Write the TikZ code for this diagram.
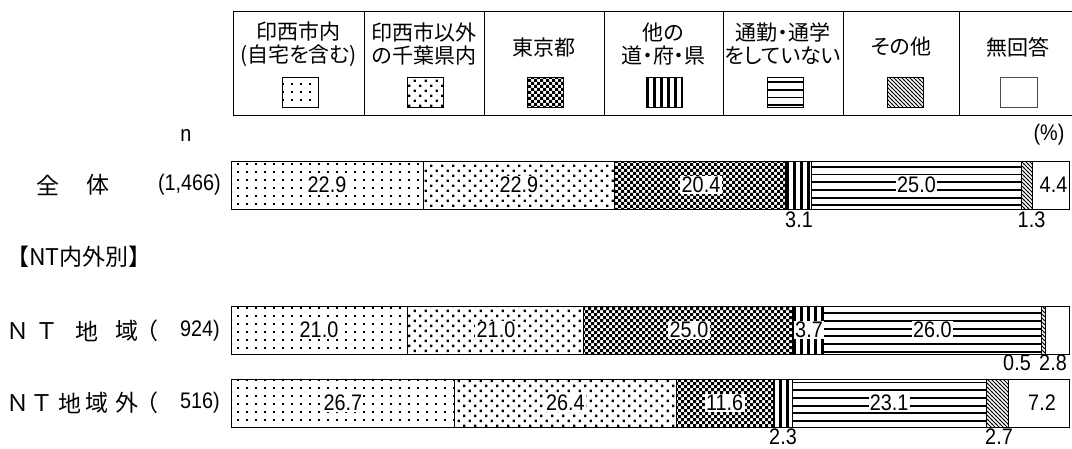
\documentclass[tikz,border=0pt]{standalone}
\usepackage{fontspec}
\setmainfont{Liberation Sans}
\newfontfamily\jp{Noto Sans CJK JP}
\newfontfamily\jpp[RawFeature=+palt]{Noto Sans CJK JP}
\newfontfamily\numf[FakeStretch=0.88]{Liberation Sans}
\usetikzlibrary{patterns}

\pgfdeclarepatternformonly{pdotsA}{\pgfqpoint{-1pt}{-1pt}}{\pgfqpoint{10pt}{9pt}}{\pgfqpoint{9pt}{8pt}}{%
  \pgfpathrectangle{\pgfqpoint{3pt}{3pt}}{\pgfqpoint{1.7pt}{1.7pt}}\pgfusepath{fill}}
\pgfdeclarepatternformonly{pdotsB}{\pgfqpoint{-1pt}{-1pt}}{\pgfqpoint{12pt}{11pt}}{\pgfqpoint{11pt}{10pt}}{%
  \pgfpathrectangle{\pgfqpoint{1pt}{1pt}}{\pgfqpoint{2.4pt}{2.4pt}}%
  \pgfpathrectangle{\pgfqpoint{6.5pt}{6pt}}{\pgfqpoint{2.4pt}{2.4pt}}\pgfusepath{fill}}
\pgfdeclarepatternformonly{pcheck}{\pgfqpoint{-1pt}{-1pt}}{\pgfqpoint{7pt}{7pt}}{\pgfqpoint{6pt}{6pt}}{%
  \pgfpathrectangle{\pgfqpoint{0pt}{0pt}}{\pgfqpoint{3pt}{3pt}}%
  \pgfpathrectangle{\pgfqpoint{3pt}{3pt}}{\pgfqpoint{3pt}{3pt}}\pgfusepath{fill}}
\pgfdeclarepatternformonly{pvert}{\pgfqpoint{-1pt}{-1pt}}{\pgfqpoint{8pt}{8pt}}{\pgfqpoint{7pt}{7pt}}{%
  \pgfpathrectangle{\pgfqpoint{2pt}{-1pt}}{\pgfqpoint{2.5pt}{10pt}}\pgfusepath{fill}}
\pgfdeclarepatternformonly{phoriz}{\pgfqpoint{-1pt}{-1pt}}{\pgfqpoint{8pt}{8.7pt}}{\pgfqpoint{7pt}{7.7pt}}{%
  \pgfpathrectangle{\pgfqpoint{-1pt}{3pt}}{\pgfqpoint{10pt}{1.9pt}}\pgfusepath{fill}}
\pgfdeclarepatternformonly{pdiag}{\pgfqpoint{-1pt}{-1pt}}{\pgfqpoint{5pt}{5pt}}{\pgfqpoint{4pt}{4pt}}{%
  \pgfsetlinewidth{0.9pt}\pgfpathmoveto{\pgfqpoint{-0.5pt}{4.5pt}}\pgfpathlineto{\pgfqpoint{4.5pt}{-0.5pt}}\pgfusepath{stroke}}

\begin{document}
\begin{tikzpicture}[x=1pt,y=-1pt,
  seg/.style={draw=black,line width=0.8pt},
  lg/.style={draw=black,line width=0.9pt},
  sw/.style={draw=black,line width=0.8pt},
  legtxt/.style={font=\jpp\fontsize{21}{23}\selectfont,align=center,inner sep=0pt},
  val/.style={font=\numf\fontsize{22.5}{22.5}\selectfont,fill=white,inner sep=1.4pt},
  num/.style={font=\numf\fontsize{22.5}{22.5}\selectfont,inner sep=0.6pt},
  jl/.style={font=\jp\fontsize{23}{23}\selectfont,inner sep=0pt},
  nl/.style={font=\numf\fontsize{22.5}{22.5}\selectfont,inner sep=0pt}]
\useasboundingbox (0,0) rectangle (1072,448);

% legend frame
\draw[lg] (233,11) -- (1072,11);
\draw[lg] (233,115) -- (1072,115);
\foreach \xx in {233,364,484,604,723,843,959} \draw[lg] (\xx,11) -- (\xx,115);

% legend texts
\node[legtxt] (l1) at (298.5,44) {印西市内\\(自宅を含む)};
\node[legtxt] (l2) at (424,44) {印西市以外\\の千葉県内};
\node[legtxt] (l3) at (544,48) {東京都};
\node[legtxt] (l4) at (663.5,44) {他の\\道・府・県};
\node[legtxt] (l5) at (783,44) {通勤・通学\\をしていない};
\node[legtxt] (l6) at (901,47) {その他};
\node[legtxt] (l7) at (1018,47) {無回答};

% legend swatches
\path[sw,pattern=pdotsA] (282,77) rectangle (318,107);
\path[sw,pattern=pdotsB] (407,77) rectangle (443,107);
\path[sw,pattern=pcheck] (527,77) rectangle (563,107);
\path[sw,pattern=pvert] (646,77) rectangle (682,107);
\path[sw,pattern=phoriz] (767,77) rectangle (803,107);
\path[sw,pattern=pdiag] (887,77) rectangle (923,107);
\path[sw,draw=black!70] (1000,77) rectangle (1037,107);

% header labels
\node[nl] (nn) at (186,135) {n};
\node[nl] (pc) at (1049,135) {(\%)};

% row labels
\node[jl] (r1a) at (48,185) {全};
\node[jl] (r1b) at (98,185) {体};
\node[nl,anchor=east] (r1c) at (221,185) {(1,466)};

\node[font=\jp\fontsize{23}{23}\selectfont,inner sep=0pt,anchor=west] (grp) at (6,257) {【NT内外別】};

\node[jl] (r2a) at (18,331) {Ｎ};
\node[jl] (r2b) at (47,331) {Ｔ};
\node[jl] (r2c) at (87,331) {地};
\node[jl] (r2d) at (127,331) {域};
\node[jl] (r2e) at (147,331) {（};
\node[nl,anchor=east] (r2f) at (220,331) {924)};

\node[jl] (r3a) at (18,403) {Ｎ};
\node[jl] (r3b) at (42,403) {Ｔ};
\node[jl] (r3c) at (70,403) {地};
\node[jl] (r3d) at (97,403) {域};
\node[jl] (r3e) at (127,403) {外};
\node[jl] (r3f) at (147,403) {（};
\node[nl,anchor=east] (r3g) at (220,403) {516)};

% bar 1
\path[seg,pattern=pdotsA] (231,161) rectangle (422.9,209);
\path[seg,pattern=pdotsB] (422.9,161) rectangle (614.8,209);
\path[seg,pattern=pcheck] (614.8,161) rectangle (785.8,209);
\path[seg,pattern=pvert] (785.8,161) rectangle (811.7,209);
\path[seg,pattern=phoriz] (811.7,161) rectangle (1021.2,209);
\path[seg,pattern=pdiag] (1021.2,161) rectangle (1032.1,209);
\path[seg] (1032.1,161) rectangle (1069,209);
\node[val] (a1) at (327,185) {22.9};
\node[val] (a2) at (518.9,185) {22.9};
\node[val] (a3) at (701,185) {20.4};
\node[num] (a4) at (799,220) {3.1};
\node[val] (a5) at (916.5,185) {25.0};
\node[num] (a6) at (1031.5,220) {1.3};
\node[num] (a7) at (1053.5,185) {4.4};

% bar 2
\path[seg,pattern=pdotsA] (231,306) rectangle (407,354);
\path[seg,pattern=pdotsB] (407,306) rectangle (583,354);
\path[seg,pattern=pcheck] (583,306) rectangle (792.5,354);
\path[seg,pattern=pvert] (792.5,306) rectangle (823.5,354);
\path[seg,pattern=phoriz] (823.5,306) rectangle (1041.3,354);
\path[seg,pattern=pdiag] (1041.3,306) rectangle (1045.5,354);
\path[seg] (1045.5,306) rectangle (1069,354);
\node[val] (b1) at (319,330) {21.0};
\node[val] (b2) at (496,330) {21.0};
\node[val] (b3) at (689,330) {25.0};
\node[val] (b4) at (809,330) {3.7};
\node[val] (b5) at (932.4,330) {26.0};
\node[num] (b6) at (1017,363) {0.5};
\node[num] (b7) at (1053,363) {2.8};

% bar 3
\path[seg,pattern=pdotsA] (231,379) rectangle (454.7,427);
\path[seg,pattern=pdotsB] (454.7,379) rectangle (676,427);
\path[seg,pattern=pcheck] (676,379) rectangle (773.2,427);
\path[seg,pattern=pvert] (773.2,379) rectangle (792.5,427);
\path[seg,pattern=phoriz] (792.5,379) rectangle (986,427);
\path[seg,pattern=pdiag] (986,379) rectangle (1008.7,427);
\path[seg] (1008.7,379) rectangle (1069,427);
\node[val] (c1) at (342.8,403) {26.7};
\node[val] (c2) at (565.4,403) {26.4};
\node[val] (c3) at (724.6,403) {11.6};
\node[num] (c4) at (783,437) {2.3};
\node[val] (c5) at (889.2,403) {23.1};
\node[num] (c6) at (999,437) {2.7};
\node[num] (c7) at (1042,403) {7.2};
\end{tikzpicture}
\end{document}
